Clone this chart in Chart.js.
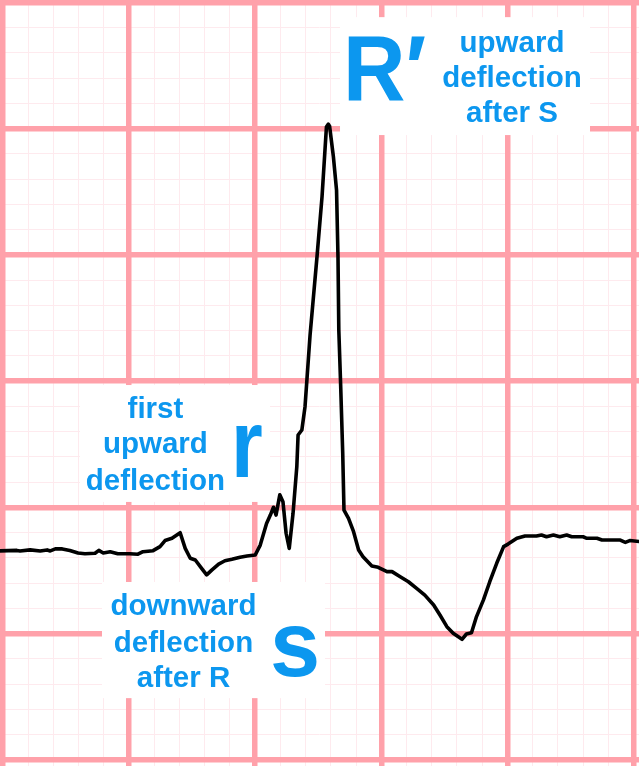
<!DOCTYPE html>
<html>
<head>
<meta charset="utf-8">
<script src="https://cdn.jsdelivr.net/npm/chart.js@4.4.1/dist/chart.umd.min.js"></script>
<style>
html,body{margin:0;padding:0;background:#ffffff;overflow:hidden}
canvas{display:block}
</style>
</head>
<body>
<canvas id="ecg" width="639" height="766"></canvas>
<script>
// ---- ECG trace (time in ms, amplitude in mV) ----
const timeMs = [-5, 22, 27, 43, 59, 70, 75, 83, 94, 106, 119, 130, 146, 152, 159, 170, 182, 201, 214, 222,
  238, 249, 257, 268, 281, 289, 297, 305, 315, 323, 331, 342, 352, 363, 376, 387, 400, 408, 418, 424,
  429, 433, 439, 444, 449, 454, 460, 466, 468, 474, 479, 482, 487, 498, 506, 513, 516, 518, 524, 529,
  531.3, 532.6, 535.6, 538.8, 540.8, 548, 556, 564, 571, 585, 595, 609, 617, 630, 643, 656, 669, 683, 693, 704,
  714, 728, 735, 743, 751, 762, 772, 783, 794, 801, 815, 828, 846, 854, 862, 873, 883, 894, 902, 920,
  926, 942, 950, 979, 987, 994, 1010];
const amplitudeMv = [0.328, 0.330, 0.328, 0.332, 0.328, 0.332, 0.328, 0.336, 0.336, 0.330, 0.320, 0.317, 0.319, 0.330, 0.320, 0.325, 0.317, 0.317, 0.315, 0.325,
  0.329, 0.345, 0.369, 0.378, 0.400, 0.338, 0.299, 0.292, 0.259, 0.233, 0.252, 0.276, 0.289, 0.295, 0.303, 0.308, 0.312, 0.351, 0.437, 0.470,
  0.501, 0.470, 0.550, 0.523, 0.398, 0.338, 0.477, 0.662, 0.787, 0.807, 0.899, 1.005, 1.183, 1.493, 1.731, 2.008, 2.018, 2.010, 1.889, 1.757,
  1.493, 1.203, 0.978, 0.715, 0.490, 0.457, 0.404, 0.332, 0.305, 0.268, 0.263, 0.246, 0.246, 0.226, 0.206, 0.180, 0.153, 0.114, 0.074, 0.028,
  0.002, -0.022, -0.001, 0.004, 0.068, 0.134, 0.206, 0.279, 0.345, 0.355, 0.378, 0.387, 0.387, 0.391, 0.384, 0.391, 0.384, 0.391, 0.384, 0.384,
  0.378, 0.378, 0.371, 0.371, 0.362, 0.369, 0.365];

// ---- ECG paper grid (small box = 40 ms / 0.1 mV, big box = 200 ms / 0.5 mV) ----
const minorTimeTicks = [];
const majorTimeTicks = [];
for (let t = 0; t <= 1000; t += 40) (t % 200 === 0 ? majorTimeTicks : minorTimeTicks).push(t);
const minorMvTicks = [];
const majorMvTicks = [];
for (let k = -5; k <= 25; k++) (k % 5 === 0 ? majorMvTicks : minorMvTicks).push(k / 10);

// ---- Labels ----
const labelBoxes = [
  { t0: 534.5, t1: 931, v0: 2.442, v1: 1.975,
    big: "R\u2032", bigDx: 3, bigDy: 83, bigSize: 93, bigScale: 0.93,
    lines: ["upward", "deflection", "after S"], cx: 172, base: [34.7, 69.7, 104.7] },
  { t0: 122, t1: 423.5, v0: 0.985, v1: 0.522,
    big: "r", bigDx: 151, bigDy: 92, bigSize: 96, bigScale: 0.85,
    lines: ["first", "upward", "deflection"], cx: 75.5, base: [33.3, 68.3, 105] },
  { t0: 157, t1: 510.7, v0: 0.205, v1: -0.255,
    big: "s", bigDx: 168, bigDy: 94, bigSize: 93, bigScale: 0.97,
    lines: ["downward", "deflection", "after R"], cx: 81.5, base: [33, 69.7, 104.7] }
];

const X_MIN = -4.76, X_MAX = 1008.7;
const Y_MIN = -0.5238, Y_MAX = 2.5099;
const MAJOR = "#ffa1aa";
const MINOR = "#feeaee";
const BLUE = "#0c97ef";
const FONT = '"Liberation Sans", Arial, Helvetica, sans-serif';

function gridScale(axis, min, max, ticks, color, width, z) {
  return {
    type: "linear", axis: axis, position: axis === "x" ? "bottom" : "left",
    min: min, max: max, z: z,
    afterBuildTicks: (s) => { s.ticks = ticks.map(v => ({ value: v })); },
    ticks: { display: false },
    border: { display: false },
    grid: { drawTicks: false, color: color, lineWidth: width }
  };
}

const labelPlugin = {
  id: "labelPlugin",
  beforeDatasetsDraw(chart) {
    const ctx = chart.ctx;
    const xs = chart.scales.x, ys = chart.scales.y;
    ctx.save();
    labelBoxes.forEach(b => {
      const left = xs.getPixelForValue(b.t0), right = xs.getPixelForValue(b.t1);
      const top = ys.getPixelForValue(b.v0), bottom = ys.getPixelForValue(b.v1);
      ctx.fillStyle = "#ffffff";
      ctx.fillRect(left, top, right - left, bottom - top);
      ctx.fillStyle = BLUE;
      ctx.textBaseline = "alphabetic";
      ctx.textAlign = "center";
      ctx.font = "bold 29.5px " + FONT;
      b.lines.forEach((s, i) => ctx.fillText(s, left + b.cx, top + b.base[i]));
      ctx.save();
      ctx.translate(left + b.bigDx, top + b.bigDy);
      ctx.scale(b.bigScale, 1);
      ctx.textAlign = "left";
      ctx.font = "bold " + b.bigSize + "px " + FONT;
      ctx.fillText(b.big, 0, 0);
      ctx.restore();
    });
    ctx.restore();
  }
};

new Chart(document.getElementById("ecg"), {
  type: "line",
  data: {
    datasets: [{
      data: timeMs.map((t, i) => ({ x: t, y: amplitudeMv[i] })),
      borderColor: "#000000",
      borderWidth: 3.6,
      pointRadius: 0,
      tension: 0,
      borderJoinStyle: "round",
      borderCapStyle: "round",
      xAxisID: "x",
      yAxisID: "y"
    }]
  },
  options: {
    responsive: false,
    animation: false,
    devicePixelRatio: 1,
    layout: { padding: 0 },
    plugins: { legend: { display: false }, tooltip: { enabled: false } },
    scales: {
      xMinor: gridScale("x", X_MIN, X_MAX, minorTimeTicks, MINOR, 1, -3),
      yMinor: gridScale("y", Y_MIN, Y_MAX, minorMvTicks, MINOR, 1, -3),
      x: gridScale("x", X_MIN, X_MAX, majorTimeTicks, MAJOR, 5.5, -1),
      y: gridScale("y", Y_MIN, Y_MAX, majorMvTicks, MAJOR, 5.5, -1)
    }
  },
  plugins: [labelPlugin]
});
</script>
</body>
</html>
